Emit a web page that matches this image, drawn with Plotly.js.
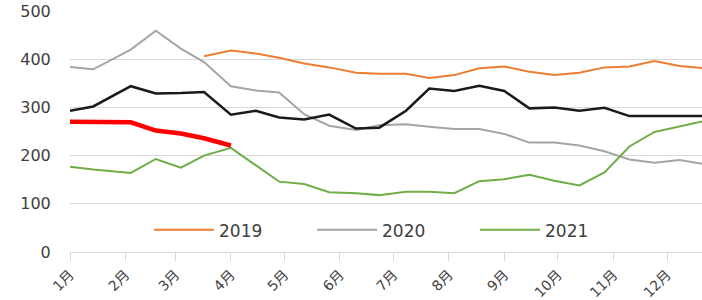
<!DOCTYPE html>
<html>
<head>
<meta charset="utf-8">
<script src="https://cdn.plot.ly/plotly-3.0.1.min.js"></script>
<style>html,body{margin:0;padding:0;background:#fff;}#chart{width:702px;height:300px;}</style>
</head>
<body>
<div id="chart"></div>
<script>
// Common biweekly sampling dates (all years mapped onto one calendar year)
const dates = ["2021-01-01","2021-01-14","2021-02-04","2021-02-18","2021-03-04","2021-03-17",
  "2021-04-01","2021-04-15","2021-04-28","2021-05-12","2021-05-26","2021-06-10","2021-06-23",
  "2021-07-08","2021-07-21","2021-08-04","2021-08-18","2021-09-01","2021-09-15","2021-09-29",
  "2021-10-13","2021-10-27","2021-11-10","2021-11-24","2021-12-08","2021-12-22"];

const monthTickVals = ["2021-01-01","2021-02-01","2021-03-01","2021-04-01","2021-05-01","2021-06-01",
  "2021-07-01","2021-08-01","2021-09-01","2021-10-01","2021-11-01","2021-12-01"];
const monthTickText = ["1月","2月","3月","4月","5月","6月","7月","8月","9月","10月","11月","12月"];

const v2019 = [null,null,null,null,null,406,418,412,403,391,383,372,370,370,361,367,381,385,374,367,372,383,385,396,386,381];
const v2020 = [384,379,420,459,422,394,344,335,331,286,262,253,263,265,260,255,255,245,227,227,221,209,192,185,191,182];
const v2021 = [177,171,164,193,175,200,216,180,146,141,124,122,118,125,125,122,147,151,160,148,138,165,219,249,260,272];
const v2022 = [293,302,344,329,330,332,285,293,279,275,285,256,258,293,339,334,345,334,298,300,293,299,282,282,282,282];
const v2023 = [270,270,269,252,246,236,221];

const font = "DejaVu Sans, 'Noto Sans CJK SC', sans-serif";

const traces = [
  {x: dates, y: v2019, name: "2019", type: "scatter", mode: "lines", line: {color: "#ED7D31", width: 2}},
  {x: dates, y: v2020, name: "2020", type: "scatter", mode: "lines", line: {color: "#A5A5A5", width: 2}},
  {x: dates, y: v2021, name: "2021", type: "scatter", mode: "lines", line: {color: "#70AD47", width: 2}},
  {x: dates, y: v2022, name: "2022", type: "scatter", mode: "lines", showlegend: false, line: {color: "#1A1A1A", width: 2.5}},
  {x: dates.slice(0, v2023.length), y: v2023, name: "2023", type: "scatter", mode: "lines", showlegend: false, line: {color: "#FF0000", width: 4.5}}
];

const layout = {
  width: 702, height: 300,
  margin: {l: 70, r: 0, t: 11, b: 48, pad: 0},
  paper_bgcolor: "#ffffff", plot_bgcolor: "#ffffff",
  font: {family: font, color: "#404040"},
  showlegend: true,
  hovermode: false,
  xaxis: {
    type: "date",
    range: ["2021-01-01", "2021-12-20 14:00"],
    tickmode: "array", tickvals: monthTickVals, ticktext: monthTickText,
    tickangle: -45, tickfont: {size: 14, color: "#404040", family: font},
    ticks: "outside", ticklen: 8, tickcolor: "#D9D9D9", tickwidth: 1,
    showline: true, linecolor: "#D9D9D9", linewidth: 1,
    showgrid: false, zeroline: false, fixedrange: true
  },
  yaxis: {
    range: [0, 500], tickmode: "linear", tick0: 0, dtick: 100,
    tickfont: {size: 16, color: "#404040", family: font},
    ticks: "outside", ticklen: 15, tickcolor: "rgba(0,0,0,0)",
    showgrid: true, gridcolor: "#D9D9D9", gridwidth: 1,
    zeroline: false, showline: false, fixedrange: true
  },
  legend: {
    orientation: "h", x: 0.125, xanchor: "left", y: 0.09, yanchor: "middle",
    font: {size: 17, color: "#404040", family: font},
    bgcolor: "rgba(0,0,0,0)", itemwidth: 60,
    entrywidth: 88, entrywidthmode: "pixels"
  }
};

Plotly.newPlot("chart", traces, layout, {displayModeBar: false, staticPlot: true});
</script>
</body>
</html>
